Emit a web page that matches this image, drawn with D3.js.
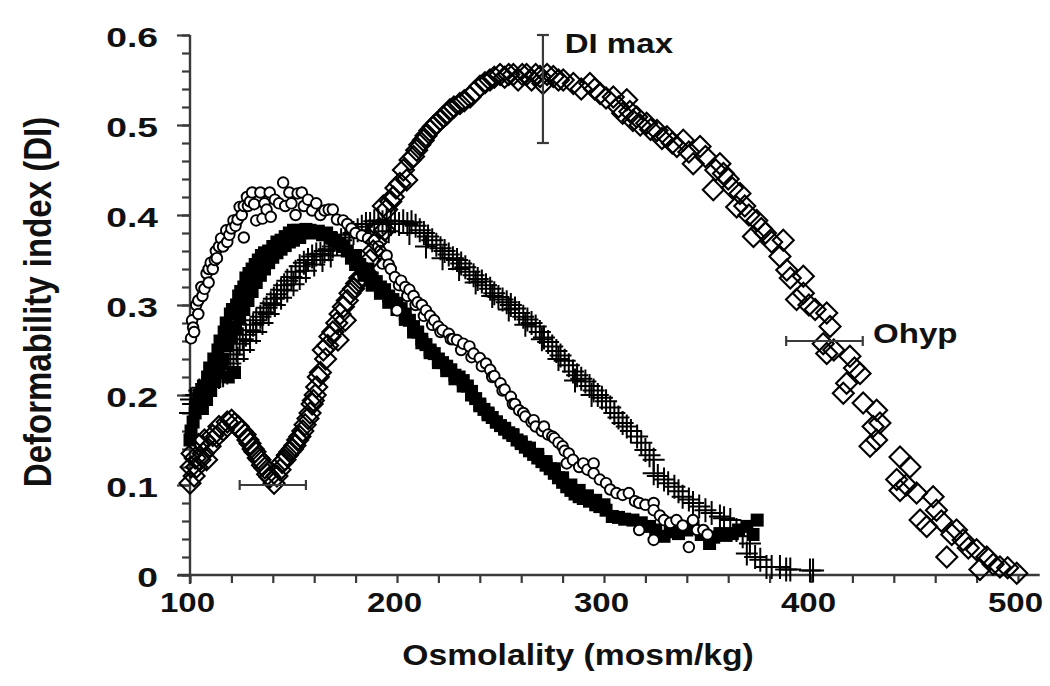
<!DOCTYPE html>
<html><head><meta charset="utf-8">
<script src="https://cdn.jsdelivr.net/npm/d3@7"></script>
<style>
body{margin:0;background:#fff}
svg{display:block}
text{font-family:"Liberation Sans",Arial,Helvetica,sans-serif;font-weight:bold;fill:#111}
</style>
</head><body>
<svg id="chart" width="1050" height="686"></svg>
<script>
// ---------- data ----------
const xTickValues = [100, 200, 300, 400, 500];
const yTickValues = [0, 0.1, 0.2, 0.3, 0.4, 0.5, 0.6];
const xLabel = "Osmolality (mosm/kg)";
const yLabel = "Deformability index (DI)";

// open circles
const circles = [
[100.5,0.263],[101,0.283],[101.5,0.275],[102,0.27],[103,0.30],[104,0.29],[104,0.305],[105.5,0.32],[106,0.31],
[107,0.318],[108,0.335],[109,0.325],[109,0.34],[110,0.347],[111,0.34],[112,0.35],[112.5,0.36],[113,0.352],
[114,0.365],[115,0.374],[116,0.365],[117.5,0.383],[118,0.37],[119,0.378],[120,0.385],[121,0.394],
[122,0.388],[123,0.395],[124,0.409],[125,0.40],[126,0.375],[126,0.41],[127.5,0.42],[128,0.41],[129,0.415],
[130,0.425],[131,0.412],[132,0.394],
[134,0.425],[135,0.396],[136,0.413],[137,0.406],[138.5,0.425],[139,0.398],[141,0.417],[143,0.413],[145,0.436],
[146,0.41],[148,0.425],[149,0.413],[151,0.40],[152,0.424],[154,0.425],[155,0.41],[157,0.417],[159,0.405],
[161,0.413],[163,0.40],[165,0.405],[167,0.406],[169,0.406],[171,0.395],[174,0.394],[176,0.39],[178,0.385],
[180,0.38],[183,0.377],[186,0.374],[189,0.372],[191,0.365],[192,0.36],[193,0.346],[195,0.355],[196,0.345],
[197,0.34],[199,0.331],[200,0.294],[201,0.322],[202,0.327],[204,0.32],[205,0.31],[206,0.317],[208,0.31],
[209,0.3],[210,0.303],[212,0.30],[213,0.288],[214,0.294],[216,0.288],[217,0.278],[218,0.283],[220,0.276],
[221,0.27],[222,0.272],[225,0.268],[226,0.262],[227,0.262],[229,0.261],[231,0.25],[232,0.257],[235,0.254],
[236,0.242],[237,0.246],[240,0.241],[241,0.232],[243,0.235],[245,0.228],[246,0.22],[247,0.221],[250,0.213],
[251,0.205],[252,0.206],[255,0.198],[256,0.19],[257,0.19],[259,0.183],[261,0.18],[262,0.176],[265,0.17],
[266,0.172],[267,0.165],[270,0.16],[271,0.165],[273,0.156],[275,0.154],[276,0.152],[278,0.147],[280,0.143],
[281,0.138],[282,0.124],
[283,0.135],[285,0.128],[288,0.12],[290,0.124],[292,0.117],[295,0.124],[295,0.113],[298,0.106],[301,0.102],
[303,0.095],[306,0.091],[309,0.089],[312,0.091],[315,0.082],[317,0.08],[317,0.05],[320,0.078],[324,0.08],
[324,0.072],[324,0.039],[327,0.066],[329,0.061],[332,0.058],[335,0.061],[338,0.055],[341,0.031],[343,0.061],
[345,0.05],[348,0.05],[350,0.045]
];

// filled squares
const squares = [
[100,0.15],[100.5,0.16],[101.5,0.17],[102.5,0.18],[103.5,0.19],[104.5,0.2],[105.5,0.19],[106.5,0.21],[107.5,0.2],
[108.5,0.22],[109.5,0.23],[110.5,0.215],[111.5,0.24],[112.5,0.225],[113.5,0.25],[114.5,0.26],[115.5,0.235],
[116.5,0.27],[117.5,0.28],[118.5,0.22],[119.5,0.29],[120.5,0.295],[121.5,0.225],[122.5,0.30],[123.5,0.31],
[124.5,0.315],[126,0.32],[127,0.33],[128.5,0.335],[130,0.34],[131.5,0.345],[133,0.35],[134.5,0.355],[136,0.358],
[138,0.36],[140,0.365],[142,0.37],[144,0.372],[146,0.376],[148,0.38],[150,0.383],[152,0.383],[154,0.38],
[156,0.384],[158,0.383],[160,0.38],[162,0.382],[164,0.378],[166,0.38],[168,0.375],[170,0.372],[172,0.368],
[174,0.365],[176,0.36],[178,0.352],[180,0.355],[182,0.345],[184,0.338],[186,0.34],[188,0.33],[190,0.326],
[192,0.32],[194,0.317],[196,0.31],[198,0.306],[200,0.302],[202,0.296],[204,0.29],[206,0.283],[208,0.276],
[210,0.27],[212,0.262],[214,0.256],[216,0.25],[218,0.246],[220,0.24],[222,0.236],[224,0.232],[226,0.228],
[228,0.222],[230,0.22],[232,0.216],[234,0.21],[236,0.204],[238,0.196],[240,0.19],[242,0.184],[244,0.18],
[246,0.175],[248,0.17],[250,0.166],[252,0.162],[254,0.158],[256,0.155],[258,0.15],[260,0.146],[262,0.142],
[264,0.138],[266,0.134],[268,0.13],[270,0.126],[272,0.122],[274,0.118],[276,0.113],[278,0.108],[280,0.103],
[282,0.098],[284,0.094],[286,0.09],[288,0.087],[290,0.085],[293,0.082],[296,0.078],[298,0.076],[301,0.072],
[304,0.065],[307,0.064],[310,0.062],[314,0.061],[318,0.058],[322,0.054],[325,0.05],[329,0.043],[332,0.048],
[336,0.046],[340,0.05],[343,0.054],[347,0.045],[351,0.035],[353,0.042],[356,0.046],[359,0.044],[362,0.046],
[365,0.05],[369,0.054],[372,0.045],[374,0.061],
// second row of the band
[106,0.185],[108,0.195],[110,0.205],[112,0.215],[114,0.228],[116,0.24],[118,0.255],[120,0.265],[122,0.275],
[124,0.285],[126,0.295],[128,0.305],[130,0.315],[132,0.325],[134,0.333],[136,0.34],[138,0.347],[140,0.353],
[142,0.358],[144,0.362],[146,0.366],[148,0.37],[150,0.372],[153,0.375],
[180,0.345],[184,0.333],[188,0.322],[192,0.313],[196,0.303],[200,0.295],[204,0.284],[208,0.27],[212,0.258],
[216,0.247],[220,0.236],[224,0.227],[228,0.218],[232,0.21],[236,0.2],[240,0.188],[244,0.178],[248,0.17],
[252,0.163],[256,0.156],[260,0.148],[264,0.141],[268,0.134],[272,0.126],[276,0.118],[280,0.108],[284,0.1],
[288,0.094],[292,0.088],[296,0.083],[300,0.078]
];

// plus signs
const pluses = [
[100,0.18],[100.5,0.195],[101.5,0.19],[103,0.2],[104.5,0.205],[106,0.208],[108,0.212],[110,0.215],[112,0.218],
[114,0.22],[116,0.222],[118,0.225],[119.5,0.235],[121,0.245],[122.5,0.25],[124,0.257],[125.5,0.262],[127,0.267],
[129,0.272],[130.5,0.278],[132,0.283],[134,0.287],[135.5,0.292],[137,0.297],[139,0.302],[140.5,0.307],[142,0.312],
[144,0.317],[145.5,0.322],[147,0.327],[149,0.331],[151,0.337],[153,0.343],[155,0.347],[157,0.35],[159,0.354],
[161,0.356],[163,0.357],[165,0.36],[167,0.362],[169,0.365],[171,0.368],[173,0.372],[175,0.375],[177,0.378],
[179,0.38],[181,0.383],[183,0.387],[185,0.39],[187,0.39],[189,0.393],[191,0.394],[193,0.392],[195,0.394],
[197,0.39],[199,0.393],[201,0.39],[203,0.393],[205,0.39],[207,0.392],[209,0.388],[211,0.383],[213,0.38],
[215,0.376],[217,0.372],[219,0.367],[221,0.363],[223,0.36],[225,0.356],[227,0.352],[229,0.35],[231,0.346],
[233,0.342],[235,0.337],[237,0.333],[239,0.329],[241,0.326],[243,0.322],[245,0.318],[247,0.313],[249,0.309],
[251,0.306],[253,0.303],[255,0.3],[257,0.296],[259,0.291],[261,0.287],[263,0.284],[265,0.28],[267,0.276],
[269,0.27],[271,0.264],[273,0.259],[275,0.254],[277,0.249],[279,0.244],[281,0.238],[283,0.233],[285,0.226],
[287,0.222],[289,0.218],[291,0.215],[293,0.21],[295,0.205],[297,0.2],[299,0.197],[301,0.193],[303,0.186],
[305,0.18],[307,0.175],[309,0.169],[311,0.165],[313,0.16],[316,0.154],[318,0.147],[320,0.139],[322,0.133],
[324,0.128],[324,0.113],[326,0.11],[329,0.106],[331,0.102],[334,0.098],[336,0.093],[338,0.087],[341,0.084],
[343,0.08],[346,0.076],[349,0.072],[352,0.069],[356,0.065],[358,0.063],[361,0.061],[364,0.05],[367,0.043],
[369,0.024],[370.5,0.035],[373,0.02],[375.5,0.017],[378.5,0.009],[381,0.009],[385,0.009],[388,0.006],
[390,0.006],[399.5,0.005],[401,0.005],
// second row of the band
[123,0.24],[126,0.25],[129,0.26],[132,0.27],[135,0.28],[138,0.29],[141,0.3],[144,0.308],[147,0.316],
[150,0.323],[153,0.33],[156,0.338],[160,0.345],[164,0.35],[168,0.355],[186,0.378],[196,0.382],[206,0.38],
[214,0.365],[222,0.352],[230,0.34],[238,0.325],[246,0.31],[254,0.295],[262,0.278],[270,0.262],[278,0.24],
[286,0.216],[294,0.2]
];

// open diamonds
const diamonds = [
[100,0.102],[100.5,0.12],[101,0.135],[102,0.11],[102.5,0.13],[103.2,0.12],[104,0.145],[104.8,0.128],[106.4,0.135],
[107,0.15],[108,0.128],[109.7,0.143],[111,0.155],[112.9,0.154],[114,0.165],[116.1,0.161],[118,0.17],[120.1,0.172],
[121.5,0.168],[123.3,0.165],[125,0.16],[126.6,0.156],[128,0.15],[129,0.146],[130.5,0.14],[131.4,0.137],[133,0.13],
[133.8,0.128],[135,0.122],[136.2,0.119],[137.5,0.112],[138.6,0.109],[140.6,0.102],[142,0.11],[143.5,0.117],
[144.5,0.125],[145.9,0.128],[147,0.133],[148.3,0.137],[149.5,0.14],[150.7,0.144],[152,0.15],[153.1,0.154],
[154.5,0.16],[155.6,0.167],[157,0.174],[158,0.18],[159,0.19],[159.6,0.194],[160.5,0.2],[161.2,0.209],[162,0.22],
[163,0.225],[164.4,0.25],[165.5,0.24],[166.5,0.255],[167.6,0.265],[169,0.27],[170.9,0.28],[171.5,0.261],
[172.5,0.29],[174.1,0.298],[175,0.283],[176,0.305],[177.3,0.313],[179,0.318],[180.5,0.324],[182,0.33],
[183.5,0.332],[185.4,0.335],[187,0.35],[188.5,0.36],[190,0.37],[191.5,0.385],[193.4,0.41],[194,0.383],
[195,0.406],[197,0.415],[198.2,0.42],[199.5,0.43],[201.4,0.435],[203.1,0.45],[204.7,0.439],[206.3,0.461],
[208,0.465],[209.5,0.472],[211,0.478],[212.7,0.483],[214,0.488],[215.9,0.494],[217.5,0.498],[219.2,0.502],
[221,0.506],[222.4,0.509],[224,0.512],[225.6,0.517],[227.5,0.52],[230.4,0.524],[232.5,0.527],[235.3,0.531],
[237.5,0.537],[240.1,0.543],[242.5,0.547],[244.9,0.55],[247,0.553],[249.8,0.556],[252,0.553],[254,0.556],
[256.2,0.556],[258.5,0.55],[260.5,0.556],[262.6,0.556],[265,0.55],[267,0.556],[269.1,0.554],[270.5,0.546],
[272.5,0.556],[275.5,0.554],[278,0.55],[280.3,0.55],[285.2,0.546],[289,0.54],[293.2,0.546],[295.5,0.54],
[298.1,0.535],[301,0.53],[304.5,0.531],[307,0.52],[309,0.513],[311,0.528],[312.5,0.515],[314,0.505],
[315.8,0.509],[317.5,0.5],[320.6,0.502],[322.5,0.495],[325.6,0.494],[328,0.485],[330.4,0.487],[333,0.48],
[335.2,0.476],[338.3,0.483],[341,0.47],[343.1,0.457],[346.4,0.476],[349,0.465],[352.8,0.428],[354,0.45],
[356,0.457],[357.7,0.446],[360,0.44],[362,0.43],[364.1,0.409],[365.7,0.424],[368,0.41],[370,0.4],[372.2,0.376],
[373.8,0.394],[376,0.385],[378,0.38],[381,0.37],[385,0.354],[386.6,0.372],[388.3,0.339],[390,0.33],[393,0.306],
[396.3,0.332],[396.3,0.313],[399,0.3],[402,0.295],[405.9,0.257],[407.6,0.291],[409.2,0.276],[407.6,0.246],
[411,0.25],[415.6,0.202],[417.2,0.213],[418.8,0.243],[421,0.23],[423.7,0.224],[425.2,0.191],[428.5,0.143],
[430,0.165],[431.7,0.183],[431.7,0.15],[433.3,0.169],[441.4,0.106],[443,0.131],[443,0.094],[446,0.1],
[447.8,0.12],[451,0.091],[452.7,0.061],[455.9,0.054],[459,0.087],[460.6,0.072],[463,0.06],[465.6,0.02],
[468,0.045],[470.3,0.05],[473.5,0.039],[476,0.03],[480,0.028],[481.6,0.006],[484.9,0.02],[488,0.012],
[491.3,0.009],[495,0.008],[499.4,0.002]
];

// error bars: horizontal [y, xlo, xhi] and vertical [x, ylo, yhi]
const hErrorBars = [[0.1, 124, 156], [0.26, 388, 425]];
const vErrorBars = [[270.5, 0.48, 0.6]];
// annotations: [text, x value, y value] (text start / baseline)
const annotations = [["DI max", 281, 0.58], ["Ohyp", 430, 0.258]];

// ---------- chart ----------
const svg = d3.select("#chart");
const axisColor = "#3a3a3a";
const x = d3.scaleLinear().domain([100, 500]).range([190, 1018]);
const y = d3.scaleLinear().domain([0, 0.6]).range([575, 35]);

const xMinor = d3.range(100, 501, 20);
const yMinor = d3.range(0, 31).map(i => +(i * 0.02).toFixed(2));

function stretch(sel, s) {
  sel.each(function () {
    const len = this.getComputedTextLength();
    d3.select(this).attr("textLength", len * s).attr("lengthAdjust", "spacingAndGlyphs");
  });
}

// axis lines
svg.append("line").attr("x1", x(100) - 12).attr("x2", x(510) + 1).attr("y1", y(0)).attr("y2", y(0))
  .attr("stroke", axisColor).attr("stroke-width", 2.4);
svg.append("line").attr("x1", x(100)).attr("x2", x(100)).attr("y1", y(0.6)).attr("y2", y(0) + 9)
  .attr("stroke", axisColor).attr("stroke-width", 2.4);

// x axis ticks
const gx = svg.append("g").attr("transform", `translate(0,${y(0)})`)
  .call(d3.axisBottom(x).tickValues(xMinor).tickSize(8).tickFormat(""));
gx.select(".domain").remove();
gx.selectAll(".tick line").attr("stroke", axisColor).attr("stroke-width", 2.2);

const gxl = svg.append("g").attr("transform", `translate(0,${y(0)})`)
  .call(d3.axisBottom(x).tickValues(xTickValues).tickSize(0).tickFormat(d3.format("d")));
gxl.select(".domain").remove();
gxl.selectAll(".tick text").attr("y", 37).attr("dy", null).attr("x", -3)
  .style("font-size", "28px").attr("fill", "#111").call(stretch, 1.18);

// y axis ticks
const gy = svg.append("g").attr("transform", `translate(${x(100)},0)`)
  .call(d3.axisLeft(y).tickValues(yMinor).tickSize(8).tickFormat(""));
gy.select(".domain").remove();
gy.selectAll(".tick line").attr("stroke", axisColor).attr("stroke-width", 2.2);

const gyl = svg.append("g").attr("transform", `translate(${x(100)},0)`)
  .call(d3.axisLeft(y).tickValues(yTickValues).tickSize(13).tickFormat(d => d === 0 ? "0" : d.toFixed(1)));
gyl.select(".domain").remove();
gyl.selectAll(".tick line").attr("stroke", axisColor).attr("stroke-width", 2.2);
gyl.selectAll(".tick text").attr("x", -32).attr("dy", null).attr("y", 11)
  .style("font-size", "27px").attr("fill", "#111").call(stretch, 1.38);

// axis titles
svg.append("text").attr("x", 578).attr("y", 665).attr("text-anchor", "middle")
  .style("font-size", "29px").text(xLabel).call(stretch, 1.16);
svg.append("text").attr("transform", "translate(51,302) rotate(-90) scale(1,1.17)")
  .attr("text-anchor", "middle").style("font-size", "33px").text(yLabel);

// markers
const marks = svg.append("g");
marks.append("g").selectAll("rect").data(squares).join("rect")
  .attr("x", d => x(d[0]) - 6.5).attr("y", d => y(d[1]) - 6.5)
  .attr("width", 13).attr("height", 13).attr("fill", "#000");
marks.append("g").selectAll("path").data(pluses).join("path")
  .attr("transform", d => `translate(${x(d[0])},${y(d[1])})`)
  .attr("d", "M-11,0H11M0,-12V12").attr("stroke", "#000").attr("stroke-width", 2).attr("fill", "none");
marks.append("g").selectAll("circle").data(circles).join("circle")
  .attr("cx", d => x(d[0])).attr("cy", d => y(d[1])).attr("r", 5.3)
  .attr("fill", "#fff").attr("stroke", "#000").attr("stroke-width", 1.9);
marks.append("g").selectAll("path").data(diamonds).join("path")
  .attr("transform", d => `translate(${x(d[0])},${y(d[1])})`)
  .attr("d", "M0,-10.5L10.5,0L0,10.5L-10.5,0Z")
  .attr("fill", "none").attr("stroke", "#000").attr("stroke-width", 2.1);

// error bars
const eb = svg.append("g").attr("stroke", axisColor).attr("stroke-width", 2.2).attr("fill", "none");
hErrorBars.forEach(([yv, lo, hi]) => {
  eb.append("line").attr("x1", x(lo)).attr("x2", x(hi)).attr("y1", y(yv)).attr("y2", y(yv));
  [lo, hi].forEach(v => eb.append("line").attr("x1", x(v)).attr("x2", x(v))
    .attr("y1", y(yv) - 5).attr("y2", y(yv) + 5));
});
vErrorBars.forEach(([xv, lo, hi]) => {
  eb.append("line").attr("x1", x(xv)).attr("x2", x(xv)).attr("y1", y(lo)).attr("y2", y(hi));
  [lo, hi].forEach(v => eb.append("line").attr("x1", x(xv) - 6).attr("x2", x(xv) + 6)
    .attr("y1", y(v)).attr("y2", y(v)));
});

// annotations
svg.append("g").selectAll("text").data(annotations).join("text")
  .attr("x", d => x(d[1])).attr("y", d => y(d[2]))
  .style("font-size", "28px").text(d => d[0]).call(stretch, 1.18);
</script>
</body></html>
